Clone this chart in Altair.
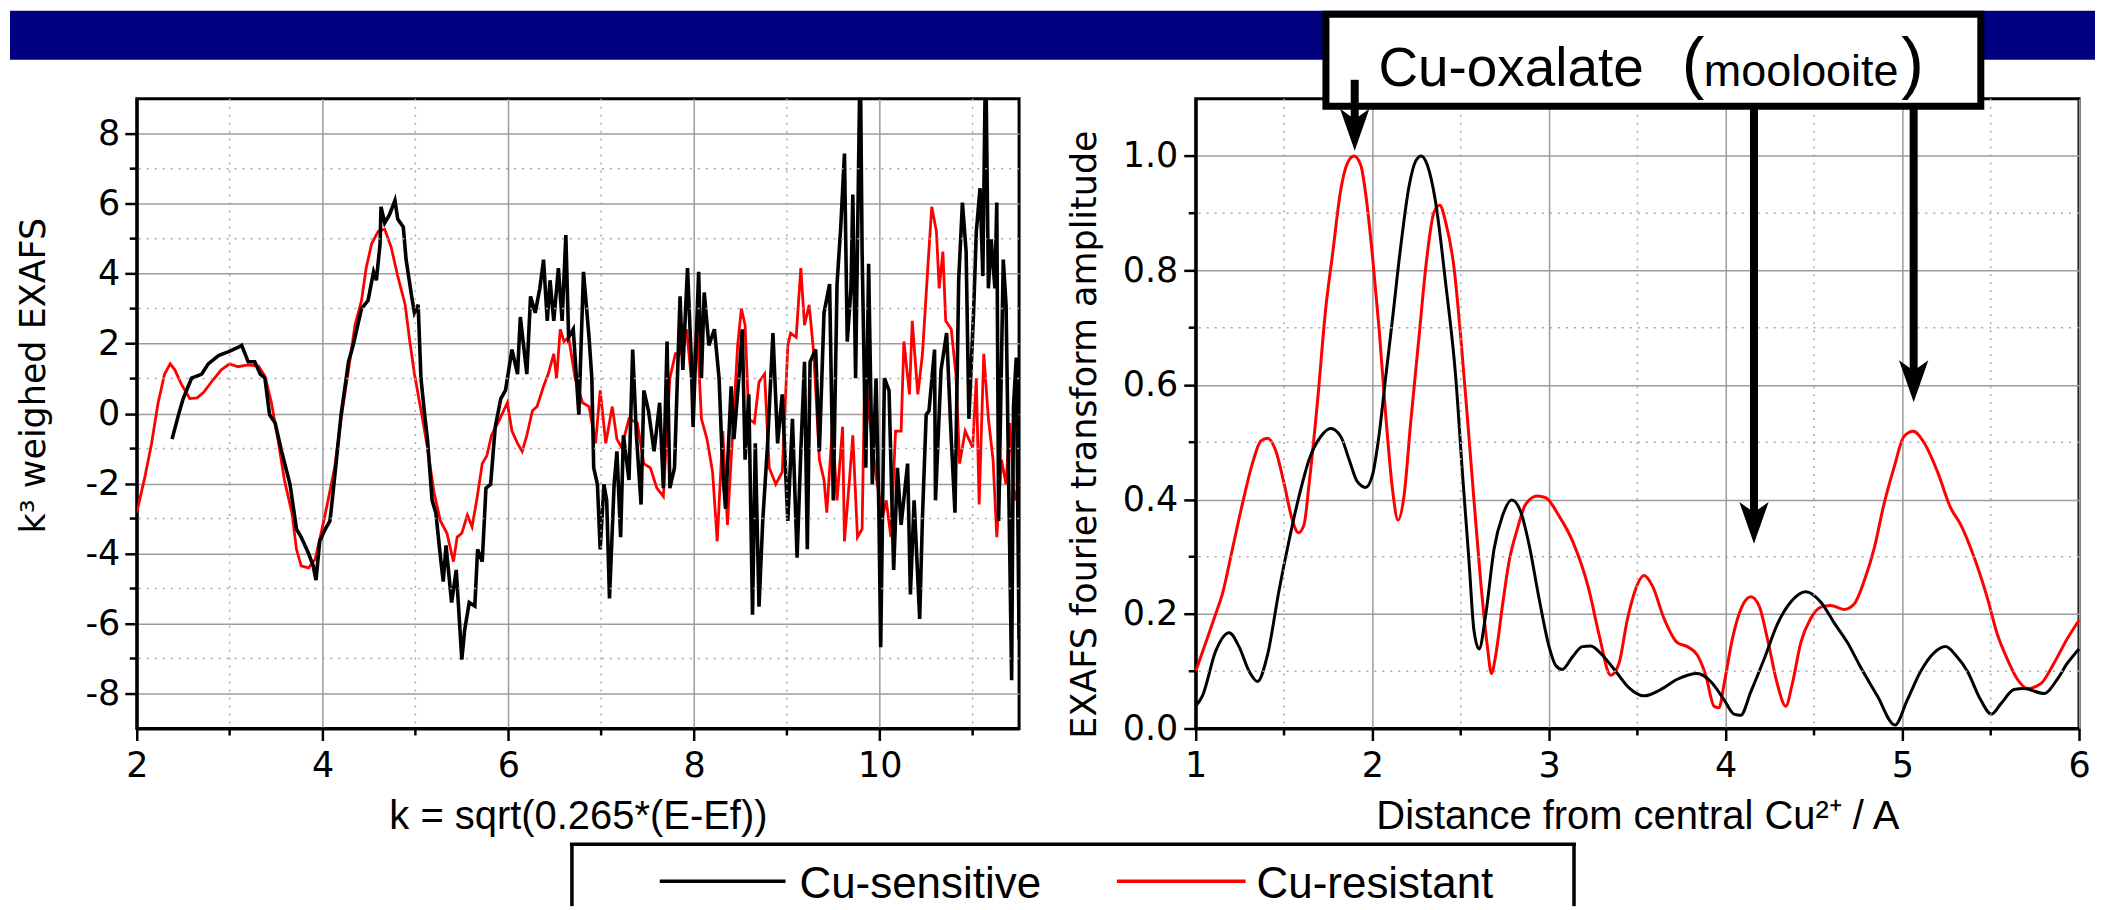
import altair as alt
import pandas as pd

# ---------------- data ----------------
series_names = ["Cu-sensitive", "Cu-resistant"]
series_colors = ["#000000", "#ff0000"]

# left panel: k^3 weighted EXAFS
exafs_k_resistant = [2.0, 2.09, 2.16, 2.23, 2.30, 2.36, 2.41, 2.48, 2.57, 2.65, 2.72, 2.82, 2.91, 3.00, 3.09, 3.20, 3.31, 3.38, 3.45, 3.52, 3.59, 3.67, 3.72, 3.77, 3.85, 3.92, 3.99, 4.06, 4.13, 4.20, 4.28, 4.35, 4.42, 4.47, 4.53, 4.60, 4.67, 4.74, 4.81, 4.89, 4.94, 4.99, 5.06, 5.13, 5.20, 5.27, 5.34, 5.41, 5.45, 5.50, 5.56, 5.61, 5.66, 5.72, 5.77, 5.82, 5.91, 5.99, 6.04, 6.10, 6.15, 6.20, 6.26, 6.31, 6.38, 6.43, 6.49, 6.52, 6.56, 6.60, 6.65, 6.72, 6.80, 6.87, 6.94, 6.99, 7.05, 7.12, 7.17, 7.22, 7.30, 7.39, 7.46, 7.53, 7.60, 7.67, 7.74, 7.80, 7.85, 7.92, 7.98, 8.03, 8.08, 8.14, 8.20, 8.25, 8.31, 8.36, 8.42, 8.47, 8.51, 8.55, 8.59, 8.65, 8.70, 8.76, 8.81, 8.88, 8.95, 9.01, 9.04, 9.10, 9.15, 9.19, 9.24, 9.29, 9.35, 9.40, 9.43, 9.49, 9.54, 9.60, 9.62, 9.67, 9.71, 9.76, 9.81, 9.84, 9.88, 9.96, 10.03, 10.07, 10.12, 10.17, 10.23, 10.26, 10.32, 10.35, 10.41, 10.46, 10.52, 10.56, 10.61, 10.64, 10.68, 10.71, 10.77, 10.82, 10.86, 10.92, 11.00, 11.04, 11.07, 11.12, 11.17, 11.22, 11.26, 11.31, 11.36, 11.40, 11.45, 11.50]
exafs_v_resistant = [-2.83, -1.78, -0.85, 0.31, 1.13, 1.42, 1.25, 0.84, 0.43, 0.45, 0.61, 0.96, 1.25, 1.42, 1.34, 1.39, 1.36, 1.07, 0.31, -0.73, -1.9, -2.83, -3.88, -4.35, -4.41, -4.17, -3.36, -2.48, -1.55, -0.15, 1.25, 2.53, 3.23, 4.16, 4.86, 5.21, 5.27, 4.75, 3.93, 3.11, 2.06, 1.13, 0.1, -0.97, -2.25, -3.07, -3.42, -4.23, -3.53, -3.42, -2.9, -3.24, -2.48, -1.43, -1.2, -0.62, -0.15, 0.31, -0.5, -0.85, -1.08, -0.62, 0.08, 0.2, 0.78, 1.13, 1.71, 1.01, 2.41, 2.06, 2.18, 1.01, 0.31, 0.2, -0.85, 0.66, -0.85, 0.2, -0.73, -0.97, -0.15, -0.27, -1.43, -1.55, -2.13, -2.37, 1.01, 1.71, 1.71, 2.41, 0.78, 2.53, -0.15, -0.73, -1.67, -3.65, -0.5, -3.18, -0.38, 1.95, 3.0, 2.53, -0.15, -0.27, 0.9, 1.13, -1.55, -2.02, -1.67, 1.95, 2.3, 2.18, 4.16, 2.53, 3.11, 1.71, -1.32, -1.9, -2.83, -0.38, -2.48, -0.38, -3.65, -2.02, -0.62, -3.53, -3.3, 1.48, 0.08, -1.78, -2.95, -2.48, -3.53, -0.5, -0.5, 2.06, 0.55, 2.65, 0.55, 1.71, 4.28, 5.91, 5.21, 3.58, 4.63, 2.65, 2.41, 1.13, -1.43, -0.5, -0.97, 1.01, -2.6, 1.71, -0.15, -1.32, -3.53, -1.32, -2.02, -0.27, -2.48, -2.02]
exafs_k_sensitive = [2.38, 2.45, 2.50, 2.59, 2.70, 2.77, 2.88, 2.99, 3.09, 3.13, 3.20, 3.27, 3.33, 3.38, 3.43, 3.49, 3.56, 3.65, 3.72, 3.77, 3.85, 3.90, 3.93, 3.97, 4.03, 4.08, 4.10, 4.15, 4.20, 4.28, 4.33, 4.42, 4.49, 4.55, 4.58, 4.62, 4.63, 4.67, 4.72, 4.78, 4.81, 4.87, 4.90, 4.96, 4.99, 5.03, 5.06, 5.10, 5.13, 5.18, 5.22, 5.27, 5.30, 5.33, 5.39, 5.44, 5.50, 5.53, 5.58, 5.64, 5.67, 5.72, 5.76, 5.81, 5.86, 5.92, 5.97, 6.04, 6.10, 6.13, 6.20, 6.24, 6.29, 6.34, 6.38, 6.42, 6.45, 6.49, 6.54, 6.58, 6.62, 6.65, 6.70, 6.76, 6.81, 6.87, 6.90, 6.92, 6.96, 6.99, 7.03, 7.06, 7.09, 7.14, 7.17, 7.21, 7.24, 7.30, 7.34, 7.38, 7.43, 7.46, 7.51, 7.57, 7.63, 7.67, 7.71, 7.74, 7.79, 7.85, 7.88, 7.93, 7.97, 7.99, 8.05, 8.08, 8.11, 8.16, 8.22, 8.27, 8.31, 8.34, 8.40, 8.43, 8.49, 8.52, 8.55, 8.59, 8.63, 8.66, 8.70, 8.74, 8.79, 8.85, 8.90, 8.95, 9.01, 9.06, 9.11, 9.15, 9.19, 9.22, 9.25, 9.31, 9.35, 9.40, 9.46, 9.50, 9.54, 9.58, 9.62, 9.65, 9.69, 9.71, 9.74, 9.79, 9.81, 9.85, 9.88, 9.92, 9.96, 9.99, 10.01, 10.05, 10.10, 10.15, 10.19, 10.23, 10.30, 10.33, 10.37, 10.43, 10.46, 10.50, 10.53, 10.59, 10.60, 10.66, 10.72, 10.77, 10.81, 10.85, 10.89, 10.93, 10.96, 11.01, 11.04, 11.08, 11.11, 11.14, 11.17, 11.20, 11.24, 11.26, 11.28, 11.33, 11.36, 11.42, 11.44, 11.47, 11.50]
exafs_v_sensitive = [-0.73, -0.03, 0.43, 1.01, 1.13, 1.42, 1.66, 1.77, 1.89, 1.95, 1.48, 1.48, 1.13, 1.01, -0.03, -0.27, -1.08, -2.02, -3.3, -3.53, -4.0, -4.35, -4.76, -3.65, -3.3, -3.07, -2.6, -1.32, -0.03, 1.48, 1.95, 3.0, 3.23, 4.05, 3.81, 4.86, 5.91, 5.45, 5.68, 6.09, 5.56, 5.33, 4.4, 3.35, 2.88, 3.11, 1.01, -0.03, -0.73, -2.48, -2.83, -4.1, -4.8, -3.77, -5.4, -4.47, -7.03, -6.2, -5.4, -5.5, -3.88, -4.23, -2.13, -2.02, -0.38, 0.43, 0.66, 1.83, 1.13, 2.76, 1.13, 3.35, 2.88, 3.58, 4.4, 2.65, 3.81, 2.65, 4.16, 2.65, 5.1, 2.18, 2.41, -0.03, 4.05, 2.18, 1.01, -1.55, -2.02, -3.88, -2.02, -2.48, -5.28, -2.02, -1.08, -3.53, -0.62, -1.9, 1.83, -0.62, -2.6, 0.66, 0.08, -1.08, 0.31, -2.13, 2.06, -2.13, -1.55, 3.35, 1.25, 4.16, 1.6, -0.38, 4.05, 1.01, 3.46, 1.95, 2.41, 1.01, -1.67, -2.72, 0.78, -0.73, 1.25, 2.41, -1.32, 0.55, -5.75, -0.85, -5.52, -3.07, -0.97, 2.3, -0.85, 0.55, -3.07, -0.15, -4.12, -1.08, 1.48, -3.88, 1.48, 1.83, -1.08, 2.88, 3.7, -2.48, 3.7, 5.33, 7.43, 2.06, 3.58, 6.26, 1.01, 10.5, 4.63, -1.55, 4.28, -2.02, 1.01, -2.72, -6.68, 1.01, 0.66, -4.47, -1.55, -3.18, -1.43, -5.17, -2.48, -5.87, -2.95, -0.03, 0.08, 1.83, -2.48, 1.25, 2.3, -0.73, -2.83, 3.81, 6.03, 4.63, -0.15, 2.88, 5.21, 6.44, 3.93, 10.5, 3.58, 4.98, 3.58, 6.03, -3.07, 4.4, 3.11, -7.62, 0.2, 1.6, -6.45]

# right panel: Fourier transform amplitude
ft_r_resistant = [1.0, 1.057, 1.113, 1.151, 1.208, 1.264, 1.321, 1.368, 1.406, 1.453, 1.5, 1.547, 1.581, 1.613, 1.642, 1.689, 1.736, 1.774, 1.821, 1.858, 1.896, 1.934, 1.962, 2.0, 2.038, 2.075, 2.113, 2.145, 2.179, 2.217, 2.264, 2.302, 2.349, 2.381, 2.415, 2.462, 2.5, 2.538, 2.575, 2.613, 2.651, 2.674, 2.698, 2.736, 2.774, 2.821, 2.868, 2.934, 2.981, 3.057, 3.132, 3.226, 3.283, 3.349, 3.396, 3.443, 3.481, 3.538, 3.585, 3.651, 3.726, 3.783, 3.840, 3.887, 3.934, 3.962, 3.991, 4.038, 4.094, 4.142, 4.189, 4.236, 4.292, 4.340, 4.377, 4.425, 4.481, 4.538, 4.594, 4.670, 4.726, 4.783, 4.840, 4.896, 4.953, 5.009, 5.062, 5.123, 5.198, 5.274, 5.330, 5.406, 5.481, 5.538, 5.594, 5.651, 5.708, 5.783, 5.858, 5.934, 6.0]
ft_a_resistant = [0.10, 0.15, 0.20, 0.235, 0.314, 0.392, 0.463, 0.502, 0.507, 0.485, 0.428, 0.364, 0.342, 0.356, 0.428, 0.570, 0.734, 0.827, 0.941, 0.987, 1.0, 0.984, 0.934, 0.827, 0.698, 0.549, 0.42, 0.364, 0.406, 0.535, 0.684, 0.805, 0.902, 0.914, 0.884, 0.805, 0.684, 0.542, 0.399, 0.257, 0.143, 0.096, 0.128, 0.214, 0.292, 0.349, 0.392, 0.406, 0.403, 0.371, 0.328, 0.242, 0.164, 0.093, 0.114, 0.19, 0.235, 0.267, 0.249, 0.192, 0.15, 0.143, 0.128, 0.093, 0.039, 0.036, 0.078, 0.157, 0.214, 0.23, 0.214, 0.157, 0.078, 0.039, 0.078, 0.15, 0.192, 0.212, 0.215, 0.208, 0.217, 0.257, 0.314, 0.392, 0.456, 0.51, 0.519, 0.499, 0.449, 0.385, 0.356, 0.299, 0.228, 0.164, 0.121, 0.086, 0.07, 0.078, 0.114, 0.157, 0.189]
ft_r_sensitive = [1.0, 1.038, 1.113, 1.189, 1.245, 1.302, 1.349, 1.406, 1.472, 1.528, 1.585, 1.642, 1.708, 1.764, 1.821, 1.868, 1.915, 1.962, 2.0, 2.038, 2.075, 2.113, 2.160, 2.208, 2.245, 2.277, 2.311, 2.358, 2.415, 2.472, 2.509, 2.547, 2.575, 2.604, 2.642, 2.689, 2.736, 2.789, 2.840, 2.887, 2.943, 3.0, 3.038, 3.075, 3.132, 3.189, 3.236, 3.302, 3.377, 3.453, 3.538, 3.632, 3.726, 3.840, 3.915, 3.991, 4.047, 4.085, 4.142, 4.217, 4.292, 4.368, 4.453, 4.538, 4.613, 4.689, 4.764, 4.858, 4.958, 5.028, 5.104, 5.179, 5.245, 5.302, 5.368, 5.443, 5.504, 5.557, 5.632, 5.689, 5.802, 5.877, 5.934, 6.0]
ft_a_sensitive = [0.039, 0.057, 0.135, 0.167, 0.143, 0.1, 0.082, 0.128, 0.242, 0.328, 0.406, 0.47, 0.51, 0.524, 0.51, 0.47, 0.431, 0.421, 0.442, 0.513, 0.613, 0.713, 0.841, 0.948, 0.991, 1.0, 0.984, 0.919, 0.777, 0.613, 0.449, 0.292, 0.171, 0.139, 0.2, 0.314, 0.371, 0.399, 0.378, 0.321, 0.228, 0.143, 0.11, 0.103, 0.125, 0.143, 0.144, 0.128, 0.1, 0.071, 0.057, 0.068, 0.086, 0.096, 0.082, 0.05, 0.025, 0.023, 0.064, 0.121, 0.182, 0.221, 0.239, 0.221, 0.185, 0.15, 0.107, 0.057, 0.006, 0.05, 0.1, 0.132, 0.143, 0.128, 0.1, 0.05, 0.025, 0.043, 0.068, 0.07, 0.061, 0.086, 0.114, 0.139]

# axes ticks
left_x_major = [2, 4, 6, 8, 10]
left_y_major = [-8, -6, -4, -2, 0, 2, 4, 6, 8]
left_x_minor = [3, 5, 7, 9, 11]
left_y_minor = [-7, -5, -3, -1, 1, 3, 5, 7]
right_x_major = [1, 2, 3, 4, 5, 6]
right_y_major = [0.0, 0.2, 0.4, 0.6, 0.8, 1.0]
right_x_minor = [1.5, 2.5, 3.5, 4.5, 5.5]
right_y_minor = [0.1, 0.3, 0.5, 0.7, 0.9]

# annotation: "Cu-oxalate (moolooite)" box and arrows (right-panel data coords)
box_r = [1.737, 5.444]
box_a = [1.2473, 1.0869]
arrow_r = [1.9, 4.16, 5.064]
arrow_start = [1.133, 1.087, 1.087]
arrow_tip = [1.009, 0.3225, 0.570]
label_parts = ["Cu-oxalate", "(", "moolooite", ")"]
label_r = [2.034, 3.751, 3.876, 4.994]
label_a = [1.1227, 1.1227, 1.1227, 1.1227]
label_size = [55, 68, 45, 68]

# ---------------- styling ----------------
FONT = "Liberation Sans, Arial, Helvetica, sans-serif"
TICKFONT = "DejaVu Sans, Liberation Sans, sans-serif"
W1, W2, H = 884, 885, 631
GRID = "#9c9c9c"
MINOR = "#a8a8a8"

one = pd.DataFrame({"d": [0]})


def axis(values, title, title_x=None, title_y=None, fmt_expr=None, angle=None, pad=8):
    kw = dict(
        values=values, title=title, grid=True, gridColor=GRID, gridWidth=1.5,
        tickSize=12, tickWidth=2.5, tickColor="black",
        domainColor="black", domainWidth=3,
        labelFont=TICKFONT, labelFontSize=35, labelColor="black", labelPadding=pad,
        labelFlush=False, labelOverlap=False,
        titleFont=FONT, titleFontSize=40, titleFontWeight="normal",
        titleColor="black", titleBaseline="alphabetic",
    )
    if title_x is not None:
        kw["titleX"] = title_x
    if title_y is not None:
        kw["titleY"] = title_y
    if fmt_expr is not None:
        kw["labelExpr"] = fmt_expr
    if angle is not None:
        kw["titleAngle"] = angle
        kw["titleAlign"] = "center"
        kw["titleFont"] = TICKFONT
        kw["titleFontSize"] = 35
    return alt.Axis(**kw)


color_enc = alt.Color("series:N", scale=alt.Scale(domain=series_names, range=series_colors), legend=None)

# ---------------- left panel ----------------
lx = alt.Scale(domain=[2, 11.5], nice=False, zero=False)
ly = alt.Scale(domain=[-9, 9], nice=False, zero=False)
ax_lx = axis(left_x_major, "k = sqrt(0.265*(E-Ef))", title_y=100, pad=8)
ax_ly = axis(left_y_major, "k\u00b3 weighed EXAFS", title_x=-92, title_y=277,
             fmt_expr="datum.value < 0 ? '-' + abs(datum.value) : '' + datum.value", angle=270, pad=5)
LX = lambda: alt.X("x:Q", scale=lx, axis=ax_lx)
LY = lambda: alt.Y("y:Q", scale=ly, axis=ax_ly)

df_left = pd.DataFrame({
    "x": exafs_k_resistant + exafs_k_sensitive,
    "y": exafs_v_resistant + exafs_v_sensitive,
    "series": ["Cu-resistant"] * len(exafs_k_resistant) + ["Cu-sensitive"] * len(exafs_k_sensitive),
})

l_lines = alt.Chart(df_left).mark_line(clip=True).encode(
    x=LX(), y=LY(), color=color_enc,
    strokeWidth=alt.StrokeWidth("series:N", scale=alt.Scale(domain=series_names, range=[3.6, 2.8]), legend=None),
)
l_minor_y = alt.Chart(pd.DataFrame({"y": left_y_minor})).mark_rule(
    color=MINOR, strokeWidth=1.5, strokeDash=[2, 6]).encode(y=LY())
l_minor_x = alt.Chart(pd.DataFrame({"x": left_x_minor})).mark_rule(
    color=MINOR, strokeWidth=1.5, strokeDash=[2, 6]).encode(x=LX())
l_mtick_y = alt.Chart(pd.DataFrame({"y": left_y_minor})).mark_rule(
    color="black", strokeWidth=2.5).encode(y=LY(), x=alt.value(-7), x2=alt.value(0))
l_mtick_x = alt.Chart(pd.DataFrame({"x": left_x_minor})).mark_rule(
    color="black", strokeWidth=2.5).encode(x=LX(), y=alt.value(H), y2=alt.value(H + 7))

banner = alt.Chart(one).mark_rect(color="#000080").encode(
    x=alt.value(-127), x2=alt.value(1962), y=alt.value(-88), y2=alt.value(-39))

leg_l = alt.Chart(one).mark_rule(color="black", strokeWidth=3.5).encode(
    x=alt.value(436), y=alt.value(747), y2=alt.value(809))
leg_t = alt.Chart(one).mark_rule(color="black", strokeWidth=3.5).encode(
    x=alt.value(434), x2=alt.value(1442), y=alt.value(747))
leg_r = alt.Chart(one).mark_rule(color="black", strokeWidth=3.5).encode(
    x=alt.value(1440), y=alt.value(747), y2=alt.value(809))
leg_k = alt.Chart(one).mark_rule(color=series_colors[0], strokeWidth=3.5).encode(
    x=alt.value(524), x2=alt.value(650), y=alt.value(784))
leg_rd = alt.Chart(one).mark_rule(color=series_colors[1], strokeWidth=3.5).encode(
    x=alt.value(982), x2=alt.value(1111), y=alt.value(784))
leg_tk = alt.Chart(one).mark_text(text=series_names[0], font=FONT, fontSize=44, align="left",
                                  baseline="alphabetic", color="black").encode(x=alt.value(664), y=alt.value(801))
leg_tr = alt.Chart(one).mark_text(text=series_names[1], font=FONT, fontSize=44, align="left",
                                  baseline="alphabetic", color="black").encode(x=alt.value(1122), y=alt.value(801))

left = alt.layer(l_lines, l_minor_y, l_minor_x, l_mtick_y, l_mtick_x, banner,
                 leg_l, leg_t, leg_r, leg_k, leg_rd, leg_tk, leg_tr).properties(width=W1, height=H)

# ---------------- right panel ----------------
rx = alt.Scale(domain=[1, 6], nice=False, zero=False)
ry = alt.Scale(domain=[0, 1.1], nice=False, zero=False)
ax_rx = axis(right_x_major, "Distance from central Cu\u00b2\u207a / A", title_y=100, pad=8)
ax_ry = axis(right_y_major, "EXAFS fourier transform amplitude", title_x=-100, title_y=336,
             fmt_expr="format(datum.value, '.1f')", angle=270, pad=6)
RX = lambda: alt.X("x:Q", scale=rx, axis=ax_rx)
RY = lambda: alt.Y("y:Q", scale=ry, axis=ax_ry)

df_right = pd.DataFrame({
    "x": ft_r_resistant + ft_r_sensitive,
    "y": ft_a_resistant + ft_a_sensitive,
    "series": ["Cu-resistant"] * len(ft_r_resistant) + ["Cu-sensitive"] * len(ft_r_sensitive),
})

r_lines = alt.Chart(df_right).mark_line(strokeWidth=3, interpolate="monotone").encode(
    x=RX(), y=RY(), color=color_enc)
r_minor_y = alt.Chart(pd.DataFrame({"y": right_y_minor})).mark_rule(
    color=MINOR, strokeWidth=1.5, strokeDash=[2, 6]).encode(y=RY())
r_minor_x = alt.Chart(pd.DataFrame({"x": right_x_minor})).mark_rule(
    color=MINOR, strokeWidth=1.5, strokeDash=[2, 6]).encode(x=RX())
r_mtick_y = alt.Chart(pd.DataFrame({"y": right_y_minor})).mark_rule(
    color="black", strokeWidth=2.5).encode(y=RY(), x=alt.value(-7), x2=alt.value(0))
r_mtick_x = alt.Chart(pd.DataFrame({"x": right_x_minor})).mark_rule(
    color="black", strokeWidth=2.5).encode(x=RX(), y=alt.value(H), y2=alt.value(H + 7))

box = alt.Chart(pd.DataFrame({"x": [box_r[0]], "x2": [box_r[1]], "y": [box_a[0]], "y2": [box_a[1]]})).mark_rect(
    fill="white", stroke="black", strokeWidth=7).encode(x=RX(), x2="x2:Q", y=RY(), y2="y2:Q")

label_layers = []
for txt, xr, ya, fs in zip(label_parts, label_r, label_a, label_size):
    label_layers.append(
        alt.Chart(pd.DataFrame({"x": [xr], "y": [ya]})).mark_text(
            text=txt, font=FONT, fontSize=fs, align="left", baseline="alphabetic", color="black").encode(
            x=RX(), y=RY()))

df_arrows = pd.DataFrame({"x": arrow_r, "y": arrow_start, "y2": arrow_tip, "tip": arrow_tip})
shafts = alt.Chart(df_arrows).mark_rule(color="black", strokeWidth=8, y2Offset=-25).encode(
    x=RX(), y=RY(), y2="y2:Q")
heads = alt.Chart(df_arrows).mark_point(
    shape="M0,1 L-0.7,-1 L0,-0.5 L0.7,-1 Z", filled=True, size=1764, opacity=1,
    color="black", yOffset=-21).encode(x=RX(), y=alt.Y("tip:Q", scale=ry, axis=ax_ry))

right = alt.layer(r_lines, r_minor_y, r_minor_x, r_mtick_y, r_mtick_x, box, *label_layers,
                  shafts, heads).properties(width=W2, height=H)

chart = alt.hconcat(left, right, spacing=177, bounds="flush").properties(
    padding=0, background="white"
).configure_view(stroke="black", strokeWidth=3)

chart.save("out.html", embed_options={"renderer": "svg", "actions": False})
